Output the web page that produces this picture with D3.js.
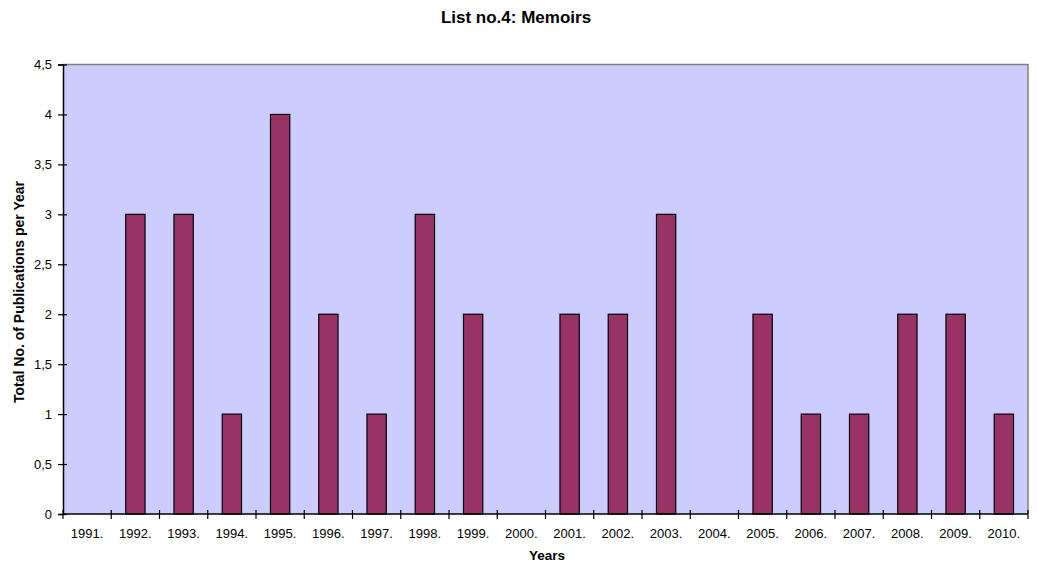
<!DOCTYPE html>
<html>
<head>
<meta charset="utf-8">
<script src="https://cdn.jsdelivr.net/npm/d3@7/dist/d3.min.js"></script>
<style>
  html, body { margin: 0; padding: 0; background: #ffffff; }
  svg { display: block; }
  text { font-family: "Liberation Sans", Arial, sans-serif; fill: #000; }
</style>
</head>
<body>
<script>
const years = ["1991.", "1992.", "1993.", "1994.", "1995.", "1996.", "1997.", "1998.", "1999.", "2000.",
               "2001.", "2002.", "2003.", "2004.", "2005.", "2006.", "2007.", "2008.", "2009.", "2010."];
const publications = [0, 3, 3, 1, 4, 2, 1, 3, 2, 0, 2, 2, 3, 0, 2, 1, 1, 2, 2, 1];
const yTicks = [0, 0.5, 1, 1.5, 2, 2.5, 3, 3.5, 4, 4.5];
const chartTitle = "List no.4: Memoirs";
const xTitle = "Years";
const yTitle = "Total No. of Publications per Year";

const W = 1038, H = 565;
const m = { left: 63, right: 1028, top: 64.5, bottom: 514 };

const svg = d3.select("body").append("svg").attr("width", W).attr("height", H);

const x = d3.scaleBand().domain(years).range([m.left, m.right]).paddingInner(0.6).paddingOuter(0.3);
const xEdge = d3.scaleLinear().domain([0, years.length]).range([m.left, m.right]);
const y = d3.scaleLinear().domain([0, 4.5]).range([m.bottom, m.top]);

// plot background
svg.append("rect")
  .attr("x", m.left).attr("y", m.top)
  .attr("width", m.right - m.left).attr("height", m.bottom - m.top)
  .attr("fill", "#CCCCFF");
// gray top/right border
svg.append("path")
  .attr("d", `M${m.left},${m.top}H${m.right}V${m.bottom}`)
  .attr("fill", "none").attr("stroke", "#808080").attr("stroke-width", 1.5);

// bars
svg.append("g").selectAll("rect").data(publications).join("rect")
  .attr("x", (d, i) => x(years[i]))
  .attr("y", d => y(d))
  .attr("width", x.bandwidth())
  .attr("height", d => y(0) - y(d))
  .attr("fill", "#993366")
  .attr("stroke", "#000").attr("stroke-width", 1.2);

// y axis
const yAxis = d3.axisLeft(y).tickValues(yTicks)
  .tickFormat(d => String(d).replace(".", ","))
  .tickSize(5).tickPadding(6);
const gy = svg.append("g").attr("transform", `translate(${m.left},0)`).call(yAxis);
gy.select(".domain").attr("stroke", "#000").attr("stroke-width", 1.5);
gy.selectAll(".tick line").attr("x1", -5).attr("x2", 4).attr("stroke", "#000").attr("stroke-width", 1.2);
gy.selectAll(".tick text").attr("font-size", 13).attr("font-family", "Liberation Sans, Arial, sans-serif").attr("x", -11);

// x axis: ticks at category boundaries
const gx = svg.append("g").attr("transform", `translate(0,${m.bottom})`);
gx.append("line").attr("x1", m.left).attr("x2", m.right).attr("y1", 0).attr("y2", 0)
  .attr("stroke", "#000").attr("stroke-width", 1.5);
gx.selectAll("line.tk").data(d3.range(years.length + 1)).join("line").attr("class", "tk")
  .attr("x1", d => xEdge(d)).attr("x2", d => xEdge(d))
  .attr("y1", -4).attr("y2", 5)
  .attr("stroke", "#000").attr("stroke-width", 1.2);
gx.selectAll("text").data(years).join("text")
  .attr("x", d => x(d) + x.bandwidth() / 2)
  .attr("y", 24)
  .attr("text-anchor", "middle")
  .attr("font-size", 13)
  .text(d => d);

// titles
svg.append("text").attr("x", 516).attr("y", 23).attr("text-anchor", "middle")
  .attr("font-size", 17).attr("font-weight", "bold").text(chartTitle);
svg.append("text").attr("x", 547).attr("y", 560).attr("text-anchor", "middle")
  .attr("font-size", 13.5).attr("font-weight", "bold").text(xTitle);
svg.append("text").attr("transform", "translate(24,292) rotate(-90)").attr("text-anchor", "middle")
  .attr("font-size", 14).attr("font-weight", "bold").text(yTitle);
</script>
</body>
</html>
